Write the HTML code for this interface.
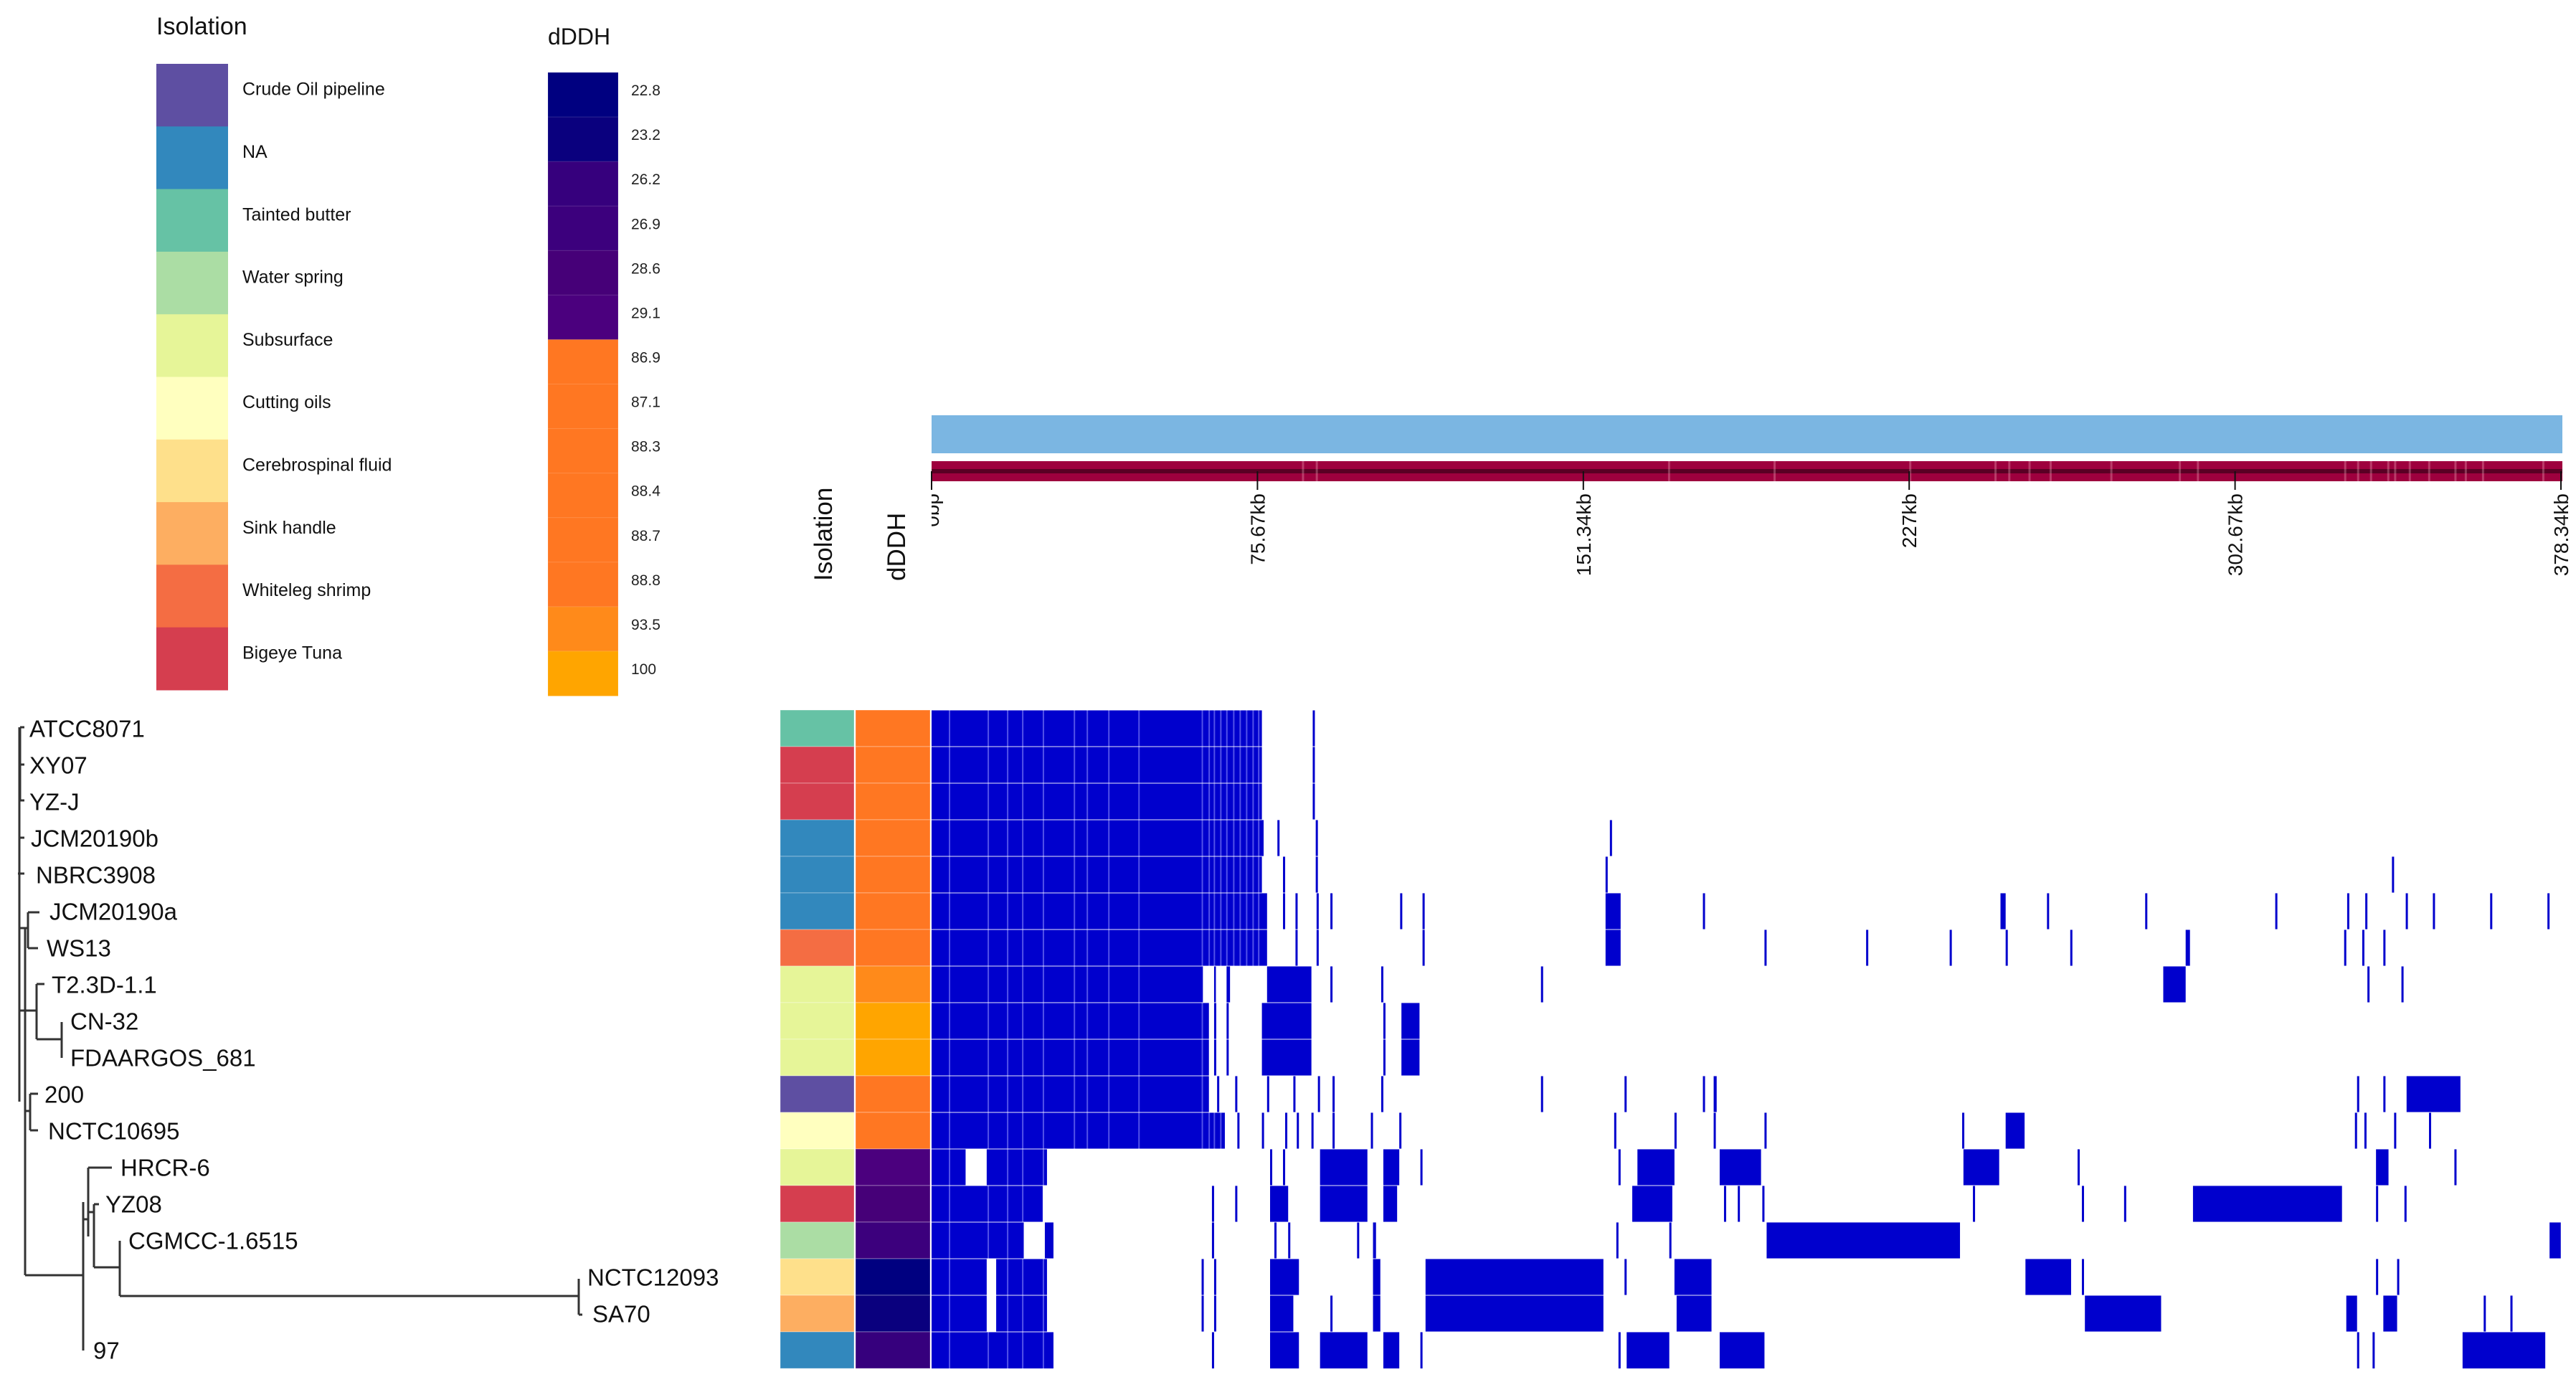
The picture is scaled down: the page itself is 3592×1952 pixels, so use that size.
<!DOCTYPE html>
<html><head><meta charset="utf-8">
<style>
html,body{margin:0;padding:0;background:#fff;}
svg{display:block;font-family:"Liberation Sans",Arial,sans-serif;}
</style></head>
<body>
<svg id="chart" width="3592" height="1952" viewBox="0 0 3592 1952" xmlns="http://www.w3.org/2000/svg">
<defs><clipPath id="tickclip"><rect x="1299" y="600" width="2300" height="400"/></clipPath></defs>
<g id="legends"></g>
<g id="tree" stroke="#333" stroke-width="3" fill="none"></g>
<g id="labels"></g>
<g id="annot"></g>
<g id="heat"></g>
<g id="axis"></g>
</svg>
<script>
// ---- data ----
const isoCategories = ["Crude Oil pipeline","NA","Tainted butter","Water spring","Subsurface","Cutting oils","Cerebrospinal fluid","Sink handle","Whiteleg shrimp","Bigeye Tuna"];
const isoColors = ["#5E4FA2","#3288BD","#66C2A5","#ABDDA4","#E6F598","#FFFFBF","#FEE08B","#FDAE61","#F46D43","#D53E4F"];
const dddhValues = ["22.8","23.2","26.2","26.9","28.6","29.1","86.9","87.1","88.3","88.4","88.7","88.8","93.5","100"];
const dddhColors = ["#000080","#0A007E","#36007D","#3C007D","#460078","#4B007E","#FF7722","#FF7722","#FF7722","#FF7722","#FF7722","#FF7722","#FF8A1A","#FFA500"];
const strains = ["ATCC8071","XY07","YZ-J","JCM20190b","NBRC3908","JCM20190a","WS13","T2.3D-1.1","CN-32","FDAARGOS_681","200","NCTC10695","HRCR-6","YZ08","CGMCC-1.6515","NCTC12093","SA70","97"];
const strainIsolation = ["Tainted butter","Bigeye Tuna","Bigeye Tuna","NA","NA","NA","Whiteleg shrimp","Subsurface","Subsurface","Subsurface","Crude Oil pipeline","Cutting oils","Subsurface","Bigeye Tuna","Water spring","Cerebrospinal fluid","Sink handle","NA"];
const strainDDDH = ["88.8","88.7","88.4","88.3","87.1","86.9","88.8","93.5","100","100","88.8","88.3","29.1","28.6","26.9","22.8","23.2","26.2"];
const genomeLength = 378.34;
const tickValues = [0,75.67,151.34,227,302.67,378.34];
const tickLabels = ["0bp","75.67kb","151.34kb","227kb","302.67kb","378.34kb"];
const refStreaks = [86,89.2,171,195.5,227,246.8,250,254.7,259.6,273.7,289.6,293.8,328,331,334,338,339.6,343,347.5,353.6,356,360,374];
// low-identity streak positions (kb) inside matched blocks
const coreStreaks = [4,13,17.5,21,25.8,33,36,41,48,62.7,64.3,65.5,67,68.4,70,71.5,73,74.5,75.8];
// matched segments per strain [startKb, endKb]
const hits = [
 [[0,76.7],[88.5,89]],
 [[0,76.7],[88.5,89]],
 [[0,76.7],[88.5,89]],
 [[0,77.1],[80.3,80.8],[89.2,89.7],[157.5,158]],
 [[0,76.7],[81.6,82.1],[89.2,89.7],[156.5,157],[339.1,339.6]],
 [[0,77.9],[81.6,82.1],[84.5,85],[89.4,89.9],[92.6,93.1],[108.8,109.3],[114,114.5],[156.5,160],[179.1,179.6],[248.2,249.4],[259,259.5],[281.8,282.3],[312,312.5],[328.7,329.2],[332.9,333.4],[342.3,342.8],[348.6,349.1],[361.9,362.4],[375.2,375.7]],
 [[0,77.9],[84.5,85],[89.4,89.9],[114,114.5],[156.5,160],[193.4,193.9],[217,217.5],[236.4,236.9],[249.4,249.9],[264.4,264.9],[291.2,292.2],[328,328.5],[332.2,332.7],[337.1,337.6]],
 [[0,63],[65.6,66],[68.5,69.3],[77.9,88.2],[92.6,93.1],[104.4,104.9],[141.5,142],[286,291.2],[333.4,333.9],[341.3,341.8]],
 [[0,64.4],[65.6,66.1],[68.5,69],[76.7,88.2],[104.9,105.4],[109.1,113.3]],
 [[0,64.4],[65.6,66.1],[68.5,69],[76.7,88.2],[104.9,105.4],[109.1,113.3]],
 [[0,64.4],[66.3,66.8],[70.5,71],[77.9,78.4],[84,84.5],[89.7,90.2],[93.1,93.6],[104.4,104.9],[141.5,142],[160.9,161.4],[179.1,179.6],[181.6,182.3],[331,331.5],[337.1,337.6],[342.5,355]],
 [[0,68.1],[71,71.5],[76.7,77.2],[82.1,82.6],[84.8,85.3],[88.2,88.7],[93.1,93.6],[102,102.5],[108.6,109.1],[158.5,159],[172.5,173],[181.6,182.1],[193.4,193.9],[239.3,239.8],[249.4,253.8],[330.5,331],[332.7,333.2],[339.6,340.1],[347.7,348.2]],
 [[0,7.9],[12.8,26.8],[78.6,79.1],[81.6,82.1],[90.2,101.2],[104.9,108.6],[113.5,114],[159.5,160],[163.9,172.5],[183,192.6],[239.6,247.9],[266.1,266.6],[335.4,338.3],[353.6,354.1]],
 [[0,25.8],[65.1,65.6],[70.5,71],[78.6,82.8],[90.2,101.2],[104.9,108.1],[162.7,172],[184,184.5],[187.2,187.7],[192.9,193.4],[241.8,242.3],[267.1,267.6],[276.9,277.4],[292.9,327.5],[335.4,335.9],[342,342.5]],
 [[0,21.4],[26.3,28.3],[65.1,65.6],[79.6,80.1],[82.8,83.3],[98.8,99.3],[102.5,103.2],[159,159.5],[171.3,171.8],[193.9,238.8],[375.7,378.3]],
 [[0,12.8],[15,26.8],[62.7,63.2],[65.6,66.1],[78.6,85.3],[102.5,104.2],[114.7,156],[160.9,161.4],[172.5,181.1],[254,264.6],[267.1,267.6],[335.4,335.9],[340.3,340.8]],
 [[0,12.8],[15,26.8],[62.7,63.2],[65.6,66.1],[78.6,84],[92.6,93.1],[102.5,104.2],[114.7,156],[173,181.1],[267.8,285.5],[328.5,331],[337.1,340.3],[360.4,360.9],[366.6,367.1]],
 [[0,28.3],[65.1,65.6],[78.6,85.3],[90.2,101.2],[104.9,108.6],[113.5,114],[159.5,160],[161.4,171.3],[183,193.4],[331,331.5],[334.6,335.1],[355.5,374.7]]
];

// ---- layout ----
const X0=1299, X1=3571, ROW0=990, ROWH=51;
const xScale = kb => X0 + (kb/genomeLength)*(X1-X0);
const rowY = i => ROW0 + i*ROWH;
const NS="http://www.w3.org/2000/svg";
function mk(tag, attrs, parent){const e=document.createElementNS(NS,tag);for(const k in attrs)e.setAttribute(k,attrs[k]);parent.appendChild(e);return e;}
const G=id=>document.getElementById(id);

// legends
const lg=G('legends');
let t=mk('text',{x:218,y:48,'font-size':34,fill:'#111'},lg);t.textContent='Isolation';


const isoH=(962-89)/isoCategories.length;
isoCategories.forEach((c,i)=>{
  const r=mk('rect',{x:218,y:89+i*isoH,width:100,height:isoH+0.5,fill:isoColors[i]},lg);
  
  
  const tx=mk('text',{x:338,y:89+i*isoH+isoH/2,'font-size':25,fill:'#111'},lg);tx.textContent=c;
  
  
});
t=mk('text',{x:764,y:62,'font-size':32,fill:'#111'},lg);t.textContent='dDDH';


const dH=(970-101)/dddhValues.length;
dddhValues.forEach((v,i)=>{
  const r=mk('rect',{x:764,y:101+i*dH,width:98,height:dH+0.5,fill:dddhColors[i],stroke:'rgba(255,255,255,0.15)','stroke-width':1},lg);
  
  
  const tx=mk('text',{x:880,y:101+i*dH+dH/2+1,'font-size':21,fill:'#222'},lg);tx.textContent=v;
  
  
});

// tree
const tr=G('tree');
const treeLines=[
 [28,1014,28,1116],[27,1014,27,1536],[28,1014,34,1014],[28,1066,34,1066],[28,1116,34,1116],
 [27,1168,34,1168],[25,1218,34,1218],
 [27,1294,39,1294],[39,1272,39,1322],[39,1272,55,1272],[39,1322,53,1322],
 [27,1409,51,1409],[51,1372,51,1449],[51,1372,62,1372],[51,1449,86,1449],[86,1425,86,1475],
 [35,1294,35,1778],[35,1549,42,1549],[42,1525,42,1576],[42,1525,53,1525],[42,1576,53,1576],
 [35,1778,116,1778],[116,1676,116,1883],
 [116,1700,123,1700],[123,1628,123,1724],[123,1628,156,1628],
 [123,1690,131,1690],[131,1679,131,1767],[131,1679,138,1679],[131,1767,167,1767],
 [167,1730,167,1807],[167,1807,807,1807],[807,1783,807,1833],[807,1833,812,1833]
];
treeLines.forEach(l=>{
  const e=mk('line',{x1:l[0],y1:l[1],x2:l[2],y2:l[3]},tr);
  
  
});
const labelX=[41,41,41,43,50,69,65,72,98,98,62,67,168,147,179,819,826,130];
const lb=G('labels');
strains.forEach((s,i)=>{
  const e=mk('text',{x:labelX[i],y:rowY(i)+ROWH/2+12,'font-size':33,fill:'#111'},lb);e.textContent=s;
  
  
});

// annotation columns
const an=G('annot');
strains.forEach((s,i)=>{
  const ci=isoCategories.indexOf(strainIsolation[i]);
  const r=mk('rect',{x:1088,y:rowY(i),width:103,height:ROWH,fill:isoColors[ci],stroke:'rgba(255,255,255,0.35)','stroke-width':1},an);
  
  
  const di=dddhValues.indexOf(strainDDDH[i]);
  const d=mk('rect',{x:1193,y:rowY(i),width:104,height:ROWH,fill:dddhColors[di],stroke:'rgba(255,255,255,0.35)','stroke-width':1},an);
  
  
});
[['Isolation',1160],['dDDH',1262]].forEach(p=>{
  const e=mk('text',{transform:`translate(${p[1]},810) rotate(-90)`,'font-size':35,fill:'#111'},an);e.textContent=p[0];
  
  
});

// heatmap
const hm=G('heat');
hits.forEach((segs,i)=>{
  segs.forEach(s=>{
    const x=xScale(s[0]), w=Math.max(2.5,xScale(s[1])-x);
    const r=mk('rect',{x:x,y:rowY(i),width:w,height:ROWH,fill:'#0000CD'},hm);
    
    
    if(s[1]-s[0]>5){
      coreStreaks.forEach(k=>{
        if(k>s[0]+0.5 && k<s[1]-0.5){
          const st=mk('rect',{x:xScale(k),y:rowY(i),width:2,height:ROWH,fill:'rgba(150,150,255,0.55)'},hm);
          
          
        }
      });
    }
  });
  const sep=mk('line',{x1:X0,x2:X1,y1:rowY(i),y2:rowY(i),stroke:'rgba(255,255,255,0.45)','stroke-width':2},hm);
  
  
});

// reference bars + axis
const ax=G('axis');
let b=mk('rect',{x:X0,y:579,width:X1-X0+2,height:53,fill:'#7BB6E2'},ax);


b=mk('rect',{x:X0,y:643,width:X1-X0+2,height:28,fill:'#9E003E'},ax);


b=mk('rect',{x:X0,y:654,width:X1-X0+2,height:6,fill:'#5A0024'},ax);


refStreaks.forEach(k=>{
  const s=mk('rect',{x:xScale(k),y:643,width:3,height:28,fill:'rgba(255,200,210,0.3)'},ax);
  
  
});
const tg=mk('g',{'clip-path':'url(#tickclip)'},ax);
tickValues.forEach((v,i)=>{
  const x=Math.min(xScale(v),X1+1);
  const l=mk('line',{x1:x,x2:x,y1:657,y2:683,stroke:'#111','stroke-width':2},ax);
  
  
  const tx=mk('text',{transform:`translate(${x+10},688) rotate(-90)`,'text-anchor':'end','font-size':28,fill:'#111'},tg);
  tx.textContent=tickLabels[i];
  
  
});
</script>
</body></html>
